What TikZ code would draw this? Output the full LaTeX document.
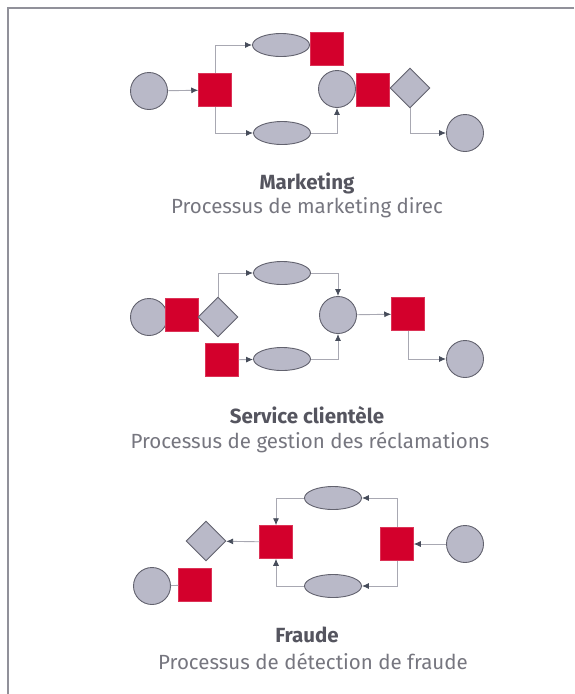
\documentclass[tikz,border=0pt]{standalone}
\usepackage{fontspec}
\setmainfont{Fira Sans}
\usepackage{tikz}
\usetikzlibrary{shapes.geometric,arrows.meta}
\definecolor{shapegray}{HTML}{B9B9C8}
\definecolor{rimgray}{HTML}{62626E}
\definecolor{boxred}{HTML}{D3002C}
\definecolor{linegray}{HTML}{A8A8B2}
\definecolor{tipgray}{HTML}{464C5A}
\definecolor{titlegray}{HTML}{55555F}
\definecolor{subgray}{HTML}{76767F}
\begin{document}
\begin{tikzpicture}[x=1pt,y=-1pt,>={Latex[length=7pt,width=6pt,color=tipgray]}]
\tikzstyle{circ}=[circle,draw=rimgray,fill=shapegray,line width=0.9pt,minimum size=37pt,inner sep=0pt];
\tikzstyle{oval}=[ellipse,draw=rimgray,fill=shapegray,line width=0.9pt,minimum width=57pt,minimum height=23pt,inner sep=0pt];
\tikzstyle{dia}=[diamond,draw=rimgray,fill=shapegray,line width=0.9pt,minimum size=40pt,inner sep=0pt];
\tikzstyle{sq}=[rectangle,fill=boxred,draw=boxred!80!white,line width=0.5pt,minimum size=33pt,inner sep=0pt];
\tikzstyle{link}=[draw=linegray,line width=0.9pt,->];
\tikzstyle{title}=[font=\bfseries\fontsize{20.5}{22}\selectfont,text=titlegray];
\tikzstyle{sub}=[font=\fontsize{20.5}{22}\selectfont,text=subgray];
\useasboundingbox (0,0) rectangle (574,694);
% frame
\draw[rimgray!70,line width=1.6pt] (574,8) -- (8,8) -- (8,694);
% draw process 1 (marketing)
%   nodes
    \node[circ] (mc1) at (149,91) {};
    \node[sq]   (ms1) at (215,90) {};
    \node[oval] (me1) at (281,45) {};
    \node[oval] (me2) at (282,133) {};
    \node[sq]   (ms2) at (327,49) {};
    \node[circ] (mc2) at (337,89) {};
    \node[sq]   (ms3) at (373,90) {};
    \node[dia]  (md1) at (410,88) {};
    \node[circ] (mc3) at (465,133) {};
%   edges
    \draw[link] (mc1) -- (ms1);
    \draw[link] (ms1.north) |- (me1);
    \draw[link] (ms1.south) |- (me2);
    \draw[link] (me2) -| (mc2);
    \draw[link] (md1.south) |- (mc3);
%   labels
    \node[title] (mt) at (307,183) {Marketing};
    \node[sub]   (mst) at (307,208) {Processus de marketing direc};
% draw process 2 (service clientele)
%   nodes
    \node[circ] (sc1) at (149,317) {};
    \node[sq]   (ss1) at (182,315) {};
    \node[dia]  (sd1) at (218,317) {};
    \node[oval] (se1) at (282,273) {};
    \node[sq]   (ss2) at (222,360) {};
    \node[oval] (se2) at (282,359) {};
    \node[circ] (sc2) at (338,315) {};
    \node[sq]   (ss3) at (408,314) {};
    \node[circ] (sc3) at (465,359) {};
%   edges
    \draw[link] (sd1.north) |- (se1);
    \draw[link] (se1) -| (sc2);
    \draw[link] (ss2) -- (se2);
    \draw[link] (se2) -| (sc2);
    \draw[link] (sc2) -- (ss3);
    \draw[link] (ss3.south) |- (sc3);
%   labels
    \node[title] (st) at (307,415) {Service clientèle};
    \node[sub]   (sst) at (310,442) {Processus de gestion des réclamations};
% draw process 3 (fraude)
%   nodes
    \node[circ] (fc1) at (465,544) {};
    \node[sq]   (fs2) at (397,544) {};
    \node[oval] (fe1) at (333,498) {};
    \node[oval] (fe2) at (333,586) {};
    \node[sq]   (fs1) at (276,542) {};
    \node[dia]  (fd1) at (206,541) {};
    \node[circ] (fc2) at (152,586) {};
    \node[sq]   (fs3) at (195,585) {};
%   edges
    \draw[link] (fc1) -- (fs2);
    \draw[link] (fs2.north) |- (fe1);
    \draw[link] (fe1) -| (fs1);
    \draw[link] (fs2.south) |- (fe2);
    \draw[link] (fe2) -| (fs1);
    \draw[link] (fs1) -- (fd1);
    \draw[draw=linegray,line width=0.9pt] (fc2) -- (fs3);
%   labels
    \node[title] (ft) at (307,635) {Fraude};
    \node[sub]   (fst) at (313,661) {Processus de détection de fraude};
\end{tikzpicture}
\end{document}
